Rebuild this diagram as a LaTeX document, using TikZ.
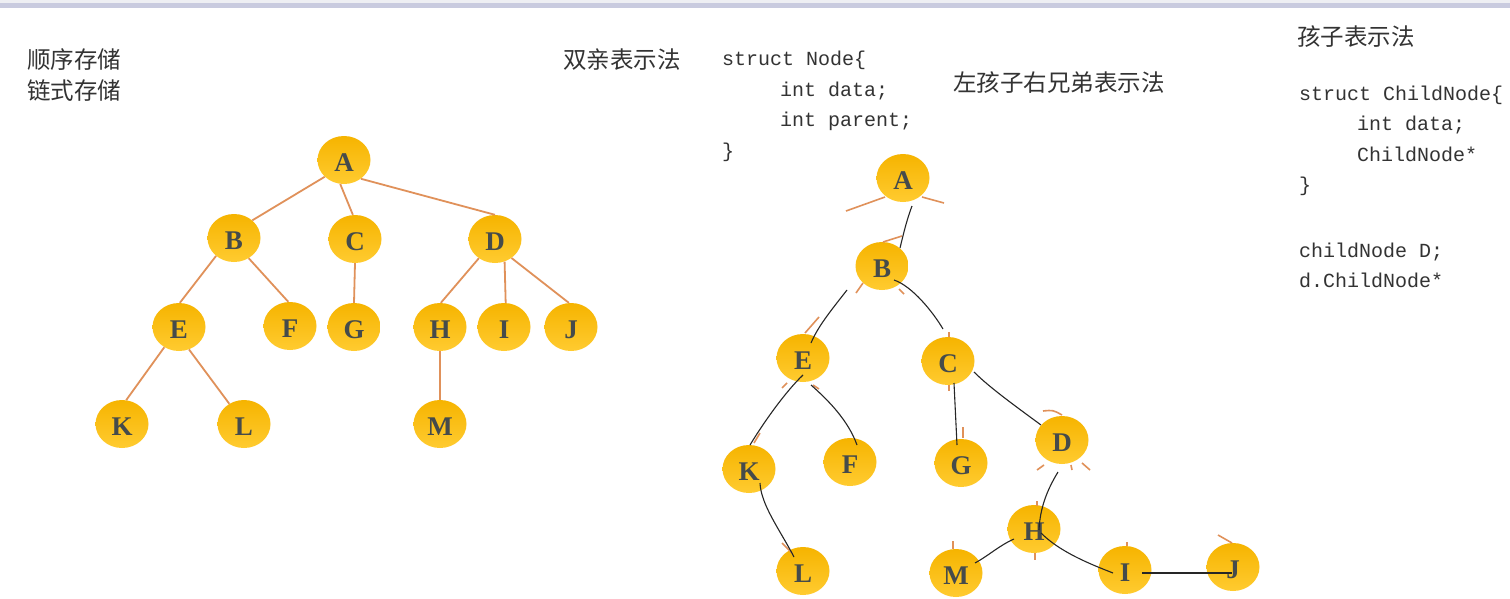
\documentclass[tikz,border=0pt]{standalone}
\usepackage{fontspec}
\setmainfont{Liberation Serif}
\setmonofont{Liberation Mono}
\newfontfamily\cjk{Noto Sans CJK SC}
\usetikzlibrary{shapes.geometric}
\definecolor{edgeor}{HTML}{E0915A}
\definecolor{balltop}{HTML}{F6B400}
\definecolor{ballbot}{HTML}{FFCB30}
\definecolor{lettergray}{HTML}{454B4B}
\definecolor{txtgray}{HTML}{333333}
\definecolor{bandblue}{HTML}{C9CBDF}
\definecolor{bandlight}{HTML}{EEEFF3}
\begin{document}
\begin{tikzpicture}[x=1pt,y=-1pt,
 ball/.style={ellipse, minimum width=53pt, minimum height=48pt, inner sep=0pt,
   top color=balltop, bottom color=ballbot, draw=none, text=lettergray,
   text height=22pt, text depth=0pt,
   font=\fontsize{27}{27}\selectfont\bfseries},
 tedge/.style={draw=edgeor, line width=1.8pt},
 stub/.style={draw=edgeor, line width=1.6pt},
 link/.style={draw=black!85, line width=1.1pt},
 cn/.style={anchor=west, inner sep=0pt, text=txtgray, font=\cjk\fontsize{23.5}{23.5}\selectfont},
 code/.style={anchor=base west, inner sep=0pt, text=txtgray, font=\ttfamily\fontsize{20}{20}\selectfont},
]
\useasboundingbox (0,0) rectangle (1510,598);
\fill[white] (0,0) rectangle (1510,598);
\fill[bandlight] (0,0) rectangle (1510,3);
\fill[bandblue] (0,3) rectangle (1510,8);

% texts
\node[cn] (t1) at (27,60) {顺序存储};
\node[cn] (t2) at (27,91) {链式存储};
\node[cn] (t3) at (563,60) {双亲表示法};
\node[cn] (t4) at (953,83) {左孩子右兄弟表示法};
\node[cn] (t5) at (1297,37) {孩子表示法};

\node[code] (c1) at (722,65) {struct Node\{};
\node[code] (c2) at (780,96) {int data;};
\node[code] (c3) at (780,126) {int parent;};
\node[code] (c4) at (722,157) {\}};

\node[code] (d1) at (1299,100) {struct ChildNode\{};
\node[code] (d2) at (1357,130) {int data;};
\node[code] (d3) at (1357,161) {ChildNode*};
\node[code] (d4) at (1299,191) {\}};
\node[code] (d5) at (1299,257) {childNode D;};
\node[code] (d6) at (1299,287) {d.ChildNode*};

% left tree
\node[ball] (lA) at (344,160) {A};
\node[ball] (lB) at (234,238) {B};
\node[ball] (lC) at (355,239) {C};
\node[ball] (lD) at (495,239) {D};
\node[ball] (lE) at (179,327) {E};
\node[ball] (lF) at (290,326) {F};
\node[ball] (lG) at (354,327) {G};
\node[ball] (lH) at (440,327) {H};
\node[ball] (lI) at (504,327) {I};
\node[ball] (lJ) at (571,327) {J};
\node[ball] (lK) at (122,424) {K};
\node[ball] (lL) at (244,424) {L};
\node[ball] (lM) at (440,424) {M};

\draw[tedge] (lA.221) -- (lB.44);
\draw[tedge] (lA.261) -- (lC.95);
\draw[tedge] (lA.312) -- (lD.90);
\draw[tedge] (lB.225) -- (lE.88);
\draw[tedge] (lB.306) -- (lF.94);
\draw[tedge] (lC.270) -- (lG.90);
\draw[tedge] (lD.230) -- (lH.88);
\draw[tedge] (lD.293) -- (lI.86);
\draw[tedge] (lD.311) -- (lJ.95);
\draw[tedge] (lE.234) -- (lK.80);
\draw[tedge] (lE.294) -- (lL.126);
\draw[tedge] (lH.270) -- (lM.90);

% right tree
\node[ball] (rA) at (903,178) {A};
\node[ball] (rB) at (882,266) {B};
\node[ball] (rE) at (803,358) {E};
\node[ball] (rC) at (948,361) {C};
\node[ball] (rK) at (749,469) {K};
\node[ball] (rF) at (850,462) {F};
\node[ball] (rG) at (961,463) {G};
\node[ball] (rD) at (1062,440) {D};
\node[ball] (rH) at (1034,529) {H};
\node[ball] (rL) at (803,571) {L};
\node[ball] (rM) at (956,573) {M};
\node[ball] (rI) at (1125,570) {I};
\node[ball] (rJ) at (1233,567) {J};

% orange stubs
\draw[stub] ([shift={(-18,19)}]rA.center) -- ([shift={(-57,33)}]rA.center);
\draw[stub] ([shift={(19,19)}]rA.center) -- ([shift={(41,25)}]rA.center);
\draw[stub] ([shift={(1,-24)}]rB.center) -- ([shift={(20,-30)}]rB.center);
\draw[stub] ([shift={(-19,17)}]rB.center) -- ([shift={(-26,27)}]rB.center);
\draw[stub] ([shift={(17,23)}]rB.center) -- ([shift={(22,28)}]rB.center);
\draw[stub] ([shift={(2,-25)}]rE.center) -- ([shift={(16,-41)}]rE.center);
\draw[stub] ([shift={(-16,25)}]rE.center) -- ([shift={(-21,30)}]rE.center);
\draw[stub] ([shift={(10,27)}]rE.center) -- ([shift={(16,31)}]rE.center);
\draw[stub] ([shift={(1,-29)}]rC.center) -- ([shift={(1,-24)}]rC.center);
\draw[stub] ([shift={(1,24)}]rC.center) -- ([shift={(1,30)}]rC.center);
\draw[stub] ([shift={(5,-26)}]rK.center) -- ([shift={(11,-36)}]rK.center);
\draw[stub] ([shift={(2,-36)}]rG.center) -- ([shift={(2,-25)}]rG.center);
\draw[stub] ([shift={(-19,-29)}]rD.center) .. controls ([shift={(-9,-30)}]rD.center) .. ([shift={(0,-25)}]rD.center);
\draw[stub] ([shift={(-25,30)}]rD.center) -- ([shift={(-18,25)}]rD.center);
\draw[stub] ([shift={(9,25)}]rD.center) -- ([shift={(10,30)}]rD.center);
\draw[stub] ([shift={(20,23)}]rD.center) -- ([shift={(28,30)}]rD.center);
\draw[stub] ([shift={(-21,-28)}]rL.center) -- ([shift={(-11,-18)}]rL.center);
\draw[stub] ([shift={(3,-28)}]rH.center) -- ([shift={(3,-23)}]rH.center);
\draw[stub] ([shift={(1,24)}]rH.center) -- ([shift={(1,31)}]rH.center);
\draw[stub] ([shift={(-3,-32)}]rM.center) -- ([shift={(-3,-24)}]rM.center);
\draw[stub] ([shift={(2,-28)}]rI.center) -- ([shift={(2,-24)}]rI.center);
\draw[stub] ([shift={(-15,-32)}]rJ.center) -- ([shift={(-1,-24)}]rJ.center);

% black hand-drawn links
\draw[link] ([shift={(9,28)}]rA.center) .. controls (906,222) and (903,236) .. ([shift={(18,-18)}]rB.center);
\draw[link] ([shift={(-35,24)}]rB.center) .. controls (833,308) and (818,326) .. ([shift={(8,-15)}]rE.center);
\draw[link] ([shift={(12,14)}]rB.center) .. controls (912,286) and (933,312) .. ([shift={(-5,-32)}]rC.center);
\draw[link] ([shift={(0,17)}]rE.center) .. controls (785,392) and (762,425) .. ([shift={(1,-24)}]rK.center);
\draw[link] ([shift={(8,27)}]rE.center) .. controls (828,400) and (848,420) .. ([shift={(7,-17)}]rF.center);
\draw[link] ([shift={(6,22)}]rC.center) -- ([shift={(-4,-18)}]rG.center);
\draw[link] ([shift={(26,11)}]rC.center) .. controls (990,388) and (1018,408) .. ([shift={(-21,-15)}]rD.center);
\draw[link] ([shift={(11,14)}]rK.center) .. controls (761,505) and (780,530) .. ([shift={(-9,-14)}]rL.center);
\draw[link] ([shift={(-4,32)}]rD.center) .. controls (1047,490) and (1040,508) .. ([shift={(5,1)}]rH.center);
\draw[link] ([shift={(-20,10)}]rH.center) .. controls (1000,545) and (988,556) .. ([shift={(19,-10)}]rM.center);
\draw[link] ([shift={(7,4)}]rH.center) .. controls (1060,552) and (1090,564) .. ([shift={(-12,3)}]rI.center);
\draw[link] ([shift={(17,3)}]rI.center) -- ([shift={(-1,6)}]rJ.center);
\end{tikzpicture}
\end{document}
